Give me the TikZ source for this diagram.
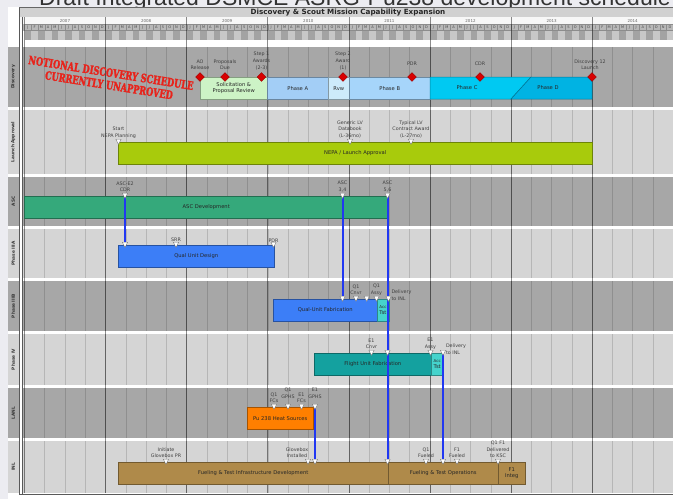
\documentclass[tikz,border=0pt]{standalone}
\usepackage{fontspec}
\setmainfont{DejaVu Sans}
\newfontfamily\titlefont{Liberation Sans}
\newfontfamily\stampfont{DejaVu Serif}[BoldFeatures={FakeBold=2.2}]
\usetikzlibrary{positioning,shapes.geometric}

\definecolor{rowdark}{HTML}{A7A7A7}
\definecolor{rowlight}{HTML}{D5D5D5}
\definecolor{slidebg}{HTML}{ECECF1}
\definecolor{stampred}{HTML}{E8231B}
\definecolor{linkblue}{HTML}{2138F2}
\definecolor{solgreen}{HTML}{CDF3C6}
\definecolor{phasea}{HTML}{A3CEF6}
\definecolor{rvwblue}{HTML}{CDEBFB}
\definecolor{phaseb}{HTML}{A6D5FA}
\definecolor{phasec}{HTML}{00C9F2}
\definecolor{phased}{HTML}{00B3E3}
\definecolor{nepagreen}{HTML}{A8CB0C}
\definecolor{ascgreen}{HTML}{35A97B}
\definecolor{qualblue}{HTML}{3C7EF7}
\definecolor{acctst}{HTML}{45D3CC}
\definecolor{flightteal}{HTML}{14A19F}
\definecolor{puorange}{HTML}{FF7F00}
\definecolor{inltan}{HTML}{AF8A4A}

% chart units are pixels, y grows downwards
\newcommand{\task}[6]{\node[taskbar, fill=#5, draw=#5!65!black, minimum width={#3-#2}, anchor=north west] (#1) at (#2,#4) {#6};}
\newcommand{\mtri}[1]{\filldraw[marker, shift={(#1)}] (-2.7,-2.8) -- (2.7,-2.8) -- (0,2.4) -- cycle;}
\newcommand{\chartrow}[5]{\fill[#4] (22,#2) rectangle (673,#3); \fill[#4] (8,#2) rectangle (18.5,#3);
  \node[rowlbl, rotate=90] (#1) at (13.3,{(#2+#3)/2}) {#5};}

\begin{document}
\begin{tikzpicture}[x=1pt, y=-1pt,
  taskbar/.style={rectangle, line width=0.5pt, minimum height=22pt, inner sep=0.4pt, align=center, font=\fontsize{5.2}{5.8}\selectfont, text=black!85},
  marker/.style={fill=white, draw=black!55, line width=0.3pt},
  msdia/.style={diamond, fill=red!85!black, draw=red!60!black, line width=0.4pt, inner sep=0pt, minimum width=9pt, minimum height=9pt},
  lbl/.style={align=center, inner sep=0.3pt, font=\fontsize{4.8}{6.6}\selectfont, text=black!75},
  rowlbl/.style={font=\bfseries\fontsize{4.3}{5}\selectfont, text=black!80, inner sep=0pt},
  link/.style={draw=linkblue, line width=2pt},
  qline/.style={draw=black, opacity=0.14, line width=0.6pt},
  yline/.style={draw=black, opacity=0.45, line width=0.8pt}]
\useasboundingbox (0,0) rectangle (673,499);
\clip (0,0) rectangle (673,499);
\fill[slidebg] (0,0) rectangle (673,499);
% slide title, cut off at the top
\node[anchor=base, inner sep=0pt, font=\titlefont\fontsize{23}{23}\selectfont, text=black!80] (slidetitle) at (355,5) {Draft Integrated DSMCE ASRG-Pu238 development schedule};
\fill[white] (7.5,6.5) rectangle (673,499);

% header
\draw[fill=black!18, draw=black!60] (19.5,7.5) rectangle (675,17);
\node[font=\bfseries\fontsize{7.2}{8}\selectfont, text=black!85, inner sep=0pt] (charttitle) at (348,12.3) {Discovery \& Scout Mission Capability Expansion};
\fill[black!3] (19.5,17) rectangle (675,24);
\foreach \yy [count=\i from 0] in {2007,...,2014} {
  \node[font=\fontsize{4}{4}\selectfont, text=black!60, inner sep=0pt] (yr\yy) at ({24.5+81.1*\i+40.5},20.6) {\yy};
  \foreach \m [count=\k from 0] in {J,F,M,A,M,J,J,A,S,O,N,D} {
    \pgfmathsetmacro{\xm}{24.5+81.1*\i+6.758*\k}
    \pgfmathtruncatemacro{\sh}{mod(\k,2)==0 ? 36 : 22}
    \draw[fill=black!28, draw=black!45, line width=0.3pt] (\xm,24) rectangle ++(6.758,6.5);
    \fill[black!\sh] (\xm,31) rectangle ++(6.758,9);
    \node[font=\fontsize{3.6}{4}\selectfont, text=black!70, inner sep=0pt] (mo\yy-\k) at (\xm+3.38,27.3) {\m};
  }
}
\fill[black!28] (22,24) rectangle (24.5,30.5);

% rows
\chartrow{discL}{47}{107}{rowdark}{Discovery}
\chartrow{launchL}{110}{174}{rowlight}{Launch Approval}
\chartrow{ascL}{177}{226}{rowdark}{ASC}
\chartrow{threeaL}{229}{278}{rowlight}{Phase IIIA}
\chartrow{threebL}{281}{331}{rowdark}{Phase IIIB}
\chartrow{fourL}{334}{385}{rowlight}{Phase IV}
\chartrow{lanlL}{388}{438}{rowdark}{LANL}
\chartrow{inlL}{441}{493}{rowlight}{INL}
\foreach \q in {1,...,31} \draw[qline] ({24.5+20.275*\q},47) -- ({24.5+20.275*\q},493);
\foreach \a/\b in {107/110,174/177,226/229,278/281,331/334,385/388,438/441} \fill[white] (22,\a) rectangle (673,\b);
\foreach \i in {0,...,7} \draw[yline] ({24.5+81.1*\i},17) -- ({24.5+81.1*\i},493);
\draw[black!65, line width=0.6pt] (19.5,7.5) -- (19.5,494.5) (21.8,17) -- (21.8,494.5) (19.5,494.5) -- (673,494.5);

% bars
\task{solic}{200}{267}{77}{solgreen}{Solicitation \&\\Proposal Review}
\task{phaseA}{267}{328}{77}{phasea}{Phase A}
\task{rvw}{328}{349}{77}{rvwblue}{Rvw}
\task{phaseB}{349}{430}{77}{phaseb}{Phase B}
\filldraw[fill=phasec, draw=phasec!65!black, line width=0.5pt] (430,77) -- (531,77) -- (511,99) -- (430,99) -- cycle;
\filldraw[fill=phased, draw=phased!65!black, line width=0.5pt] (531,77) -- (592,77) -- (592,99) -- (511,99) -- cycle;
\node[taskbar, draw=none, minimum height=0pt] (phaseC) at (467,88) {Phase C};
\node[taskbar, draw=none, minimum height=0pt] (phaseD) at (548,88) {Phase D};
\task{nepa}{118}{592}{142}{nepagreen}{NEPA / Launch Approval}
\task{ascdev}{24}{388}{196}{ascgreen}{ASC Development}
\task{qud}{118}{274}{245}{qualblue}{Qual Unit Design}
\task{quf}{273}{377}{299}{qualblue}{Qual-Unit Fabrication}
\task{accq}{377}{388.5}{299}{acctst}{\fontsize{4}{4.5}\selectfont Acc\\Tst}
\task{fuf}{314}{431}{353}{flightteal}{Flight Unit Fabrication}
\task{accf}{431}{443}{353}{acctst}{\fontsize{4}{4.5}\selectfont Acc\\Tst}
\task{pu}{247}{313}{407}{puorange}{Pu 238 Heat Sources}
\task{ftid}{118}{388}{462}{inltan}{Fueling \& Test Infrastructure Development}
\task{fto}{388}{498}{462}{inltan}{Fueling \& Test Operations}
\task{fint}{498}{525}{462}{inltan}{F1\\Integ}

% milestone points
\coordinate (nepaStart) at (118.5,142);
\coordinate (genLV) at (350,142);
\coordinate (typLV) at (411,142);
\coordinate (ascE2) at (125,196);
\coordinate (asc34) at (342.5,196);
\coordinate (ascFiveSix) at (387.5,196);
\coordinate (qudStart) at (125,245);
\coordinate (srr) at (176,245);
\coordinate (pdrQ) at (273.5,245);
\coordinate (quf34) at (342.5,299);
\coordinate (q1cnvr) at (356,299);
\coordinate (qmid) at (366.7,299);
\coordinate (q1assy) at (376.5,299);
\coordinate (qdel) at (388.5,299);
\coordinate (e1cnvr) at (371.5,353);
\coordinate (ivFiveSix) at (387.5,353);
\coordinate (e1assy) at (430.5,353);
\coordinate (fdel) at (443,353);
\coordinate (q1fcs) at (274,407);
\coordinate (q1gphs) at (288,407);
\coordinate (e1fcs) at (301.5,407);
\coordinate (e1gphs) at (315,407);
\coordinate (initGB) at (166,462);
\coordinate (gbA) at (308,462);
\coordinate (gbB) at (315,462);
\coordinate (inlFiveSix) at (387.5,462);
\coordinate (q1fuel) at (426,462);
\coordinate (inlF) at (443,462);
\coordinate (f1fuel) at (457,462);
\coordinate (ksc) at (498,462);

% links
\draw[link] (ascE2) -- (qudStart);
\draw[link] (asc34) -- (quf34);
\draw[link] (fdel) -- (inlF);
\draw[link] (e1gphs) -- (gbB);
\draw[link] (ascFiveSix) -- (ivFiveSix) -- (inlFiveSix);

\foreach \p in {nepaStart,genLV,typLV,ascE2,asc34,ascFiveSix,qudStart,srr,pdrQ,quf34,q1cnvr,qmid,q1assy,qdel,e1cnvr,ivFiveSix,e1assy,fdel,q1fcs,q1gphs,e1fcs,e1gphs,initGB,gbA,gbB,inlFiveSix,q1fuel,inlF,f1fuel,ksc} {\mtri{\p}}

% discovery milestones
\node[msdia] (aoRel) at (200,77) {};
\node[msdia] (propDue) at (225,77) {};
\node[msdia] (stepOne) at (261.5,77) {};
\node[msdia] (stepTwo) at (343,77) {};
\node[msdia] (pdrD) at (412,77) {};
\node[msdia] (cdrD) at (480,77) {};
\node[msdia] (launch) at (592,77) {};
\node[lbl, above=2pt of aoRel] (aoRelL) {AO\\Release};
\node[lbl, above=2pt of propDue] (propDueL) {Proposals\\Due};
\node[lbl, above=2pt of stepOne] (stepOneL) {Step 1\\Awards\\(2-3)};
\node[lbl, above=2pt of stepTwo] (stepTwoL) {Step 2\\Award\\(1)};
\node[lbl, above=6pt of pdrD] (pdrDL) {PDR};
\node[lbl, above=6pt of cdrD] (cdrDL) {CDR};
\node[lbl, above=2pt of launch, xshift=-2pt] (launchLbl) {Discovery 12\\Launch};

% other labels
\node[lbl, above=3.5pt of nepaStart] (nepaStartL) {Start\\NEPA Planning};
\node[lbl, above=3.5pt of genLV] (genLVL) {Generic LV\\Databook\\(L-36mo)};
\node[lbl, above=3.5pt of typLV] (typLVL) {Typical LV\\Contract Award\\(L-27mo)};
\node[lbl, above=3.5pt of ascE2] (ascE2L) {ASC-E2\\CDR};
\node[lbl, above=3.5pt of asc34] (asc34L) {ASC\\3,4};
\node[lbl, above=3.5pt of ascFiveSix] (ascFiveSixL) {ASC\\5,6};
\node[lbl, above=2.5pt of srr] (srrL) {SRR};
\node[lbl, above=2.5pt of pdrQ] (pdrQL) {PDR};
\node[lbl, above=3.5pt of q1cnvr] (q1cnvrL) {Q1\\Cnvr};
\node[lbl, above=3.5pt of q1assy] (q1assyL) {Q1\\Assy};
\node[lbl, align=left, anchor=west] (qdelL) at ([xshift=2.5pt, yshift=4pt]qdel) {Delivery\\to INL};
\node[lbl, above=3.5pt of e1cnvr] (e1cnvrL) {E1\\Cnvr};
\node[lbl, above=3.5pt of e1assy] (e1assyL) {E1\\Assy};
\node[lbl, align=left, anchor=west] (fdelL) at ([xshift=2.5pt, yshift=4pt]fdel) {Delivery\\to INL};
\node[lbl, above=3.5pt of q1fcs] (q1fcsL) {Q1\\FCs};
\node[lbl, above=8pt of q1gphs] (q1gphsL) {Q1\\GPHS};
\node[lbl, above=3.5pt of e1fcs] (e1fcsL) {E1\\FCs};
\node[lbl, above=8pt of e1gphs] (e1gphsL) {E1\\GPHS};
\node[lbl, above=3.5pt of initGB] (initGBL) {Initiate\\Glovebox PR};
\node[lbl, above=3.5pt of gbA, xshift=-11pt] (gbAL) {Glovebox\\Installed};
\node[lbl, above=3.5pt of q1fuel] (q1fuelL) {Q1\\Fueled};
\node[lbl, above=3.5pt of f1fuel] (f1fuelL) {F1\\Fueled};
\node[lbl, above=3.5pt of ksc] (kscL) {Q1 F1\\Delivered\\to KSC};

% stamp
\node[font=\stampfont\bfseries\fontsize{11.5}{12.5}\selectfont, text=stampred, align=center, inner sep=0pt, rotate=-9, xscale=0.72] (stamp) at (110,79) {NOTIONAL DISCOVERY SCHEDULE\\CURRENTLY UNAPPROVED};
\end{tikzpicture}
\end{document}
